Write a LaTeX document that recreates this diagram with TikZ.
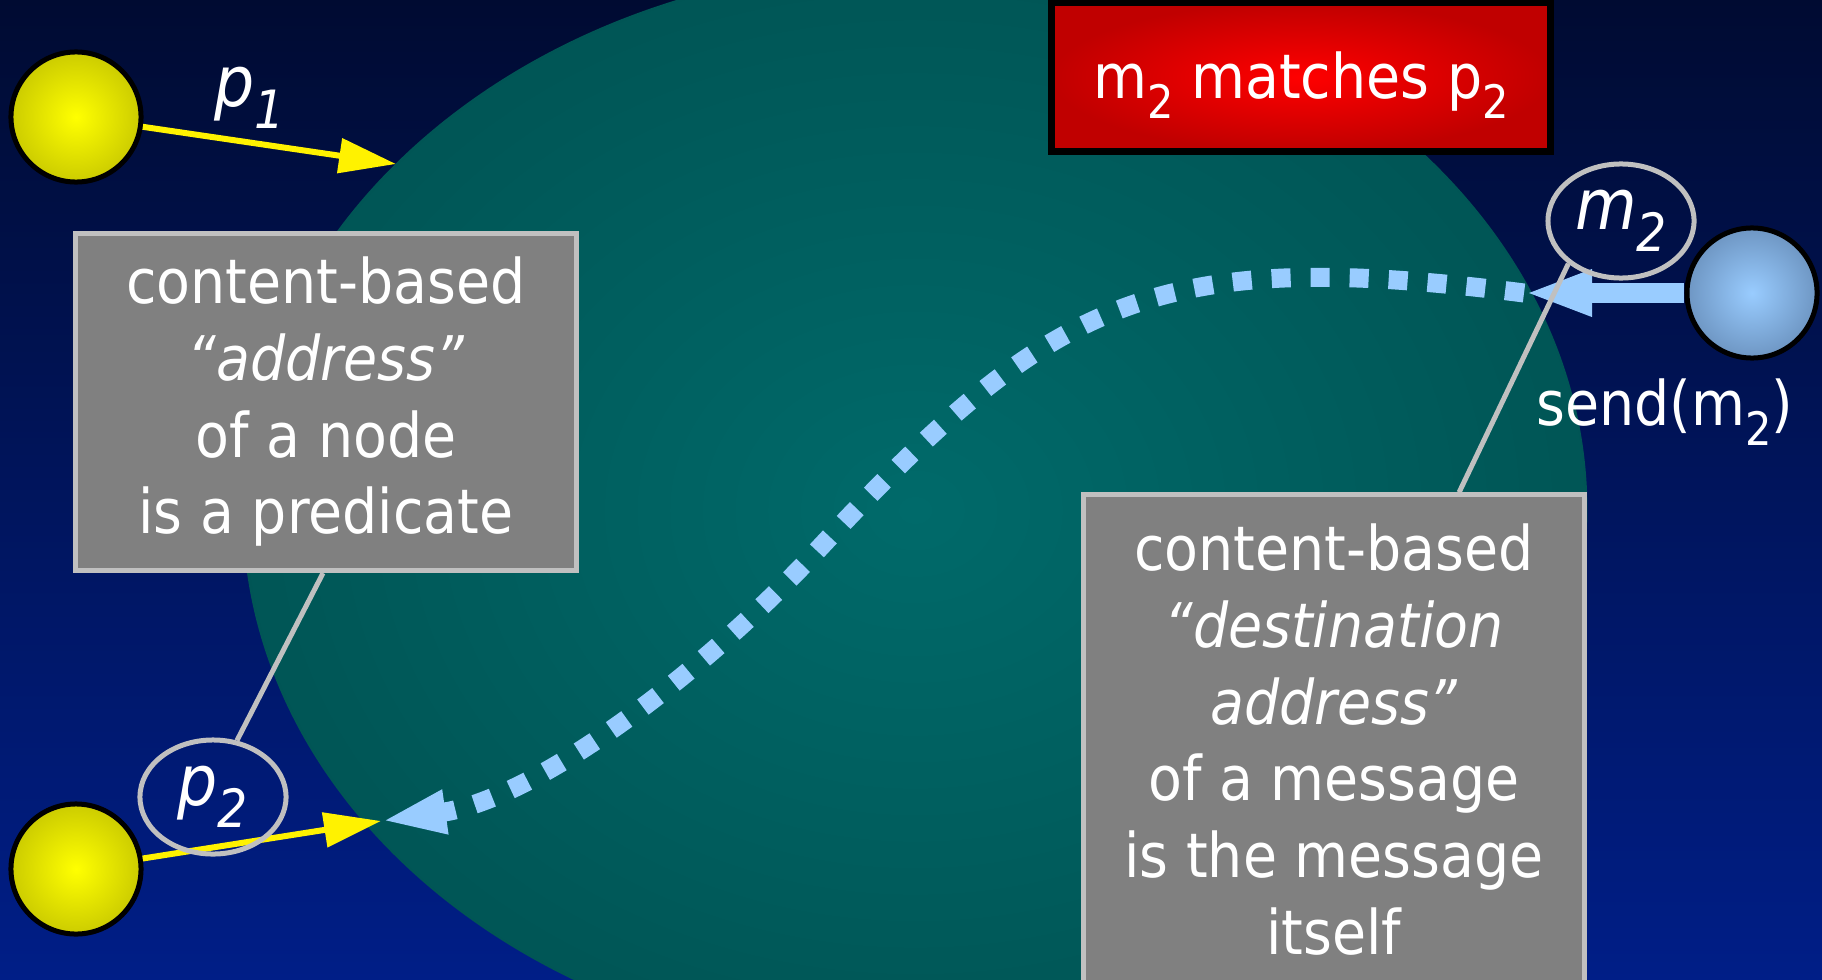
\documentclass[tikz,border=0pt]{standalone}
\usepackage{fontspec}
\setmainfont{DejaVu Sans}[FakeStretch=0.9]
\usetikzlibrary{arrows.meta, shapes.geometric}
\definecolor{navytop}{RGB}{0,11,50}
\definecolor{navybot}{RGB}{0,30,135}
\definecolor{tealedge}{RGB}{0,78,78}
\definecolor{tealmid}{RGB}{0,106,106}
\definecolor{boxgray}{RGB}{128,128,128}
\definecolor{rimgray}{RGB}{192,192,192}
\definecolor{skyblue}{RGB}{153,204,255}
\definecolor{ballblue}{RGB}{110,150,195}
\definecolor{ballyellow}{RGB}{204,204,0}
\definecolor{matchred}{RGB}{192,0,0}
\pgfdeclareradialshading{lagoon}{\pgfpointorigin}{color(0bp)=(tealmid); color(34bp)=(tealedge); color(50bp)=(tealedge)}
\newcommand{\lowsub}[1]{\raisebox{-0.32em}{\scalebox{0.75}{#1}}}

\begin{document}
\begin{tikzpicture}[x=0.01cm, y=-0.01cm,
        every node/.style={text=white},
        ball/.style={circle, draw=black, line width=0.05cm, minimum size=1.3cm, inner sep=0pt},
        note/.style={rectangle, fill=boxgray, draw=rimgray, line width=0.05cm, minimum width=5cm, align=center, font=\fontsize{17.5}{21.8}\selectfont},
        tag/.style={ellipse, draw=rimgray, line width=0.05cm, minimum width=1.46cm, minimum height=1.14cm, inner sep=0pt, font=\fontsize{20}{24}\selectfont\itshape},
        leader/.style={draw=rimgray, line width=0.05cm},
        subarrow/.style={draw=yellow, fill=yellow, line width=0.06cm, -{Triangle[length=0.57cm, width=0.34cm]}},
        sendarrow/.style={draw=skyblue, line width=0.2cm, -{Triangle[length=0.68cm, width=0.42cm]}},
        route/.style={draw=skyblue, line width=0.19cm, dash pattern=on 0.19cm off 0.2cm, -{Triangle[length=0.65cm, width=0.4cm]}}
    ]
      \useasboundingbox (0,0) rectangle (1822,979);
      \shade[top color=navytop, bottom color=navybot] (0,0) rectangle (1822,979);
      \shade[shading=lagoon] (915,510) ellipse [x radius=6.72cm, y radius=5.45cm];

      \node[rectangle, draw=black, line width=0.07cm, minimum width=4.99cm, minimum height=1.49cm, text height=0.63cm,
            inner color=red, outer color=matchred, font=\fontsize{17.5}{21.8}\selectfont] (match) at (1301,77)
           {m\lowsub{2} matches p\lowsub{2}};

      \node[note, minimum height=3.37cm] (addrbox) at (326,402)
           {content-based\\\textit{“address”}\\of a node\\is a predicate};
      \node[note, minimum height=4.89cm] (destbox) at (1334,739.5)
           {content-based\\\textit{“destination}\\\textit{address”}\\of a message\\is the message\\itself};

      \node[ball, inner color=yellow, outer color=ballyellow] (pubtop) at (76,117) {};
      \node[ball, inner color=yellow, outer color=ballyellow] (pubbot) at (76,869) {};
      \node[ball, inner color=skyblue, outer color=ballblue] (sender) at (1752,293) {};

      \coordinate (reach1) at (396,164);
      \coordinate (reach2) at (381,821);
      \coordinate (entry) at (1524,293);

      \draw[subarrow] (pubtop) -- (reach1);
      \draw[subarrow] (pubbot) -- (reach2);
      \draw[sendarrow] (sender) -- (entry);
      \draw[route] (entry) .. controls (1150,245) and (1050,300) .. (813,555)
                           .. controls (690,685) and (530,800) .. (reach2);

      \node[font=\fontsize{20}{24}\selectfont\itshape] (p1lbl) at (250,98) {p\lowsub{1}};
      \node[tag] (p2lbl) at (213,797) {p\lowsub{2}};
      \node[tag] (m2lbl) at (1621,221) {m\lowsub{2}};
      \node[font=\fontsize{17.5}{21.8}\selectfont] (sendlbl) at (1665,412) {send(m\lowsub{2})};

      \draw[leader] ([xshift=-0.03cm]addrbox.south) -- (p2lbl.67);
      \draw[leader] (m2lbl.219) -- ([xshift=1.25cm]destbox.north);
    \end{tikzpicture}
\end{document}
